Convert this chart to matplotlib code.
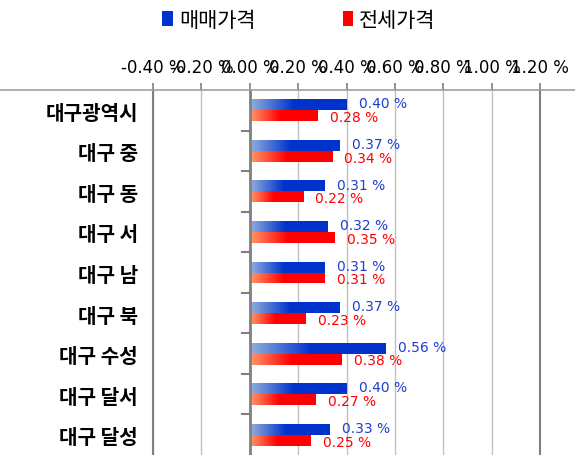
import numpy as np
import matplotlib
matplotlib.use('Agg')
import matplotlib.pyplot as plt
from matplotlib.colors import LinearSegmentedColormap
from matplotlib.patches import Patch

plt.rcParams['font.family'] = ['Noto Sans CJK KR', 'DejaVu Sans']

# data
regions = ['대구광역시', '대구 중', '대구 동', '대구 서', '대구 남', '대구 북', '대구 수성', '대구 달서', '대구 달성']
sale = [0.40, 0.37, 0.31, 0.32, 0.31, 0.37, 0.56, 0.40, 0.33]      # 매매가격
jeonse = [0.28, 0.34, 0.22, 0.35, 0.31, 0.23, 0.38, 0.27, 0.25]    # 전세가격
xticks = [-0.4, -0.2, 0.0, 0.2, 0.4, 0.6, 0.8, 1.0, 1.2]

blue_cmap = LinearSegmentedColormap.from_list('b', [(0, '#94b0dc'), (0.45, '#0033cc'), (1, '#0033cc')])
red_cmap = LinearSegmentedColormap.from_list('r', [(0, '#ff9a6a'), (0.45, '#ff0000'), (1, '#ff0000')])
blue_txt = '#1f3fcf'
red_txt = '#ff0000'

fig = plt.figure(figsize=(5.75, 4.56), dpi=100)
ax = fig.add_axes([153 / 575, 0.0, (540 - 153) / 575, 1 - 91 / 456])

n = len(regions)
y = np.arange(n)
h = 0.27
grad = np.linspace(0, 1, 256).reshape(1, -1)


def gradient_bars(ypos, vals, cmap):
    bars = ax.barh(ypos, vals, height=h, color='none', edgecolor='none')
    for b, v in zip(bars, vals):
        y0 = b.get_y()
        im = ax.imshow(grad, cmap=cmap, aspect='auto', extent=[0, v, y0 + h, y0],
                       interpolation='bicubic', zorder=2)
        im.set_clip_path(b)
    return bars


gradient_bars(y - h / 2, sale, blue_cmap)
gradient_bars(y + h / 2, jeonse, red_cmap)

for i in range(n):
    ax.annotate(f'{sale[i]:.2f} %', (sale[i], y[i] - h / 2), xytext=(9, 1), textcoords='offset points',
                va='center', ha='left', fontsize=10, color=blue_txt, family=['DejaVu Sans'])
    ax.annotate(f'{jeonse[i]:.2f} %', (jeonse[i], y[i] + h / 2), xytext=(9, -1), textcoords='offset points',
                va='center', ha='left', fontsize=10, color=red_txt, family=['DejaVu Sans'])

ax.set_xlim(-0.4, 1.2)
ax.set_ylim(n - 0.5, -0.5)
ax.xaxis.tick_top()
ax.set_xticks(xticks)
ax.set_xticklabels([f'{t:.2f} %' for t in xticks], family=['DejaVu Sans'], fontsize=12)
ax.tick_params(axis='x', length=5, color='#808080', width=1.2, pad=5)
ax.grid(axis='x', color='#c0c0c0', linewidth=1)
ax.set_axisbelow(True)

ax.set_yticks(y)
ax.set_yticklabels(regions, fontsize=14.5, fontweight='bold')
ax.tick_params(axis='y', length=0, pad=11)

for s in ['left', 'right']:
    ax.spines[s].set_color('#808080')
    ax.spines[s].set_linewidth(1.5)
ax.spines['bottom'].set_visible(False)
ax.spines['top'].set_visible(False)

# zero axis with tick marks between categories
ax.axvline(0, color='#808080', linewidth=2, zorder=3)
for yy in np.arange(n - 1) + 0.5:
    ax.plot([-0.03, 0], [yy, yy], color='#808080', linewidth=1.5, clip_on=False, zorder=3)

# long horizontal axis line across the top
fig.add_artist(plt.Line2D([0, 1], [1 - 91 / 456, 1 - 91 / 456], color='#a0a0a0', linewidth=1.2))

handles = [Patch(facecolor='#0033cc'), Patch(facecolor='#ff0000')]
fig.legend(handles, ['매매가격', '전세가격'], loc='center', bbox_to_anchor=(0.52, 0.955), ncol=2,
           frameon=False, fontsize=15, handlelength=0.5, handleheight=0.7, handletextpad=0.3,
           columnspacing=4.2)

fig.savefig('out.png', dpi=100)
